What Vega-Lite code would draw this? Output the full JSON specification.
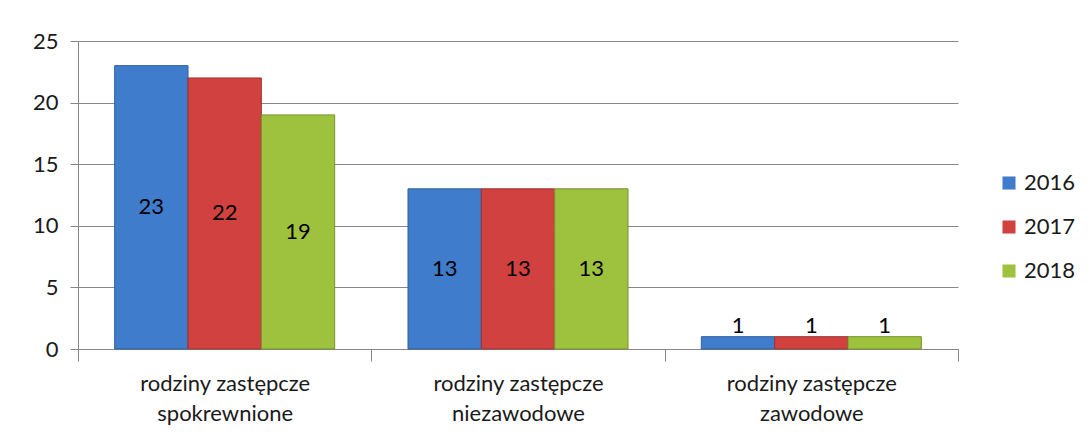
{
  "$schema": "https://vega.github.io/schema/vega-lite/v6.json",
  "width": 880,
  "height": 308,
  "autosize": {"type": "none"},
  "padding": {"left": 78, "top": 41, "right": 133, "bottom": 92},
  "background": "white",
  "config": {
    "view": {"stroke": null},
    "font": "Lato",
    "axis": {"labelFont": "Lato", "labelColor": "#1a1a1a", "labelFontSize": 22, "domainColor": "#868686", "tickColor": "#868686", "gridColor": "#868686"}
  },
  "data": {
    "values": [
      {"category": "rodziny zastępcze spokrewnione", "year": "2016", "value": 23},
      {"category": "rodziny zastępcze spokrewnione", "year": "2017", "value": 22},
      {"category": "rodziny zastępcze spokrewnione", "year": "2018", "value": 19},
      {"category": "rodziny zastępcze niezawodowe", "year": "2016", "value": 13},
      {"category": "rodziny zastępcze niezawodowe", "year": "2017", "value": 13},
      {"category": "rodziny zastępcze niezawodowe", "year": "2018", "value": 13},
      {"category": "rodziny zastępcze zawodowe", "year": "2016", "value": 1},
      {"category": "rodziny zastępcze zawodowe", "year": "2017", "value": 1},
      {"category": "rodziny zastępcze zawodowe", "year": "2018", "value": 1}
    ]
  },
  "encoding": {
    "x": {
      "field": "category", "type": "nominal", "sort": null,
      "scale": {"paddingInner": 0, "paddingOuter": 0},
      "axis": {"title": null, "labelAngle": 0, "tickBand": "extent", "tickSize": 12, "labelPadding": 12, "labelLineHeight": 30,
        "labelExpr": "isString(datum.label) && length(datum.label) > 18 ? ['rodziny zastępcze', substring(datum.label, 18)] : ''", "domainColor": "#868686"}
    },
    "xOffset": {"field": "year", "type": "nominal", "scale": {"paddingInner": 0, "paddingOuter": 0.5}}
  },
  "layer": [
    {
      "mark": {"type": "bar", "strokeWidth": 1},
      "encoding": {
        "y": {"field": "value", "type": "quantitative", "scale": {"domain": [0, 25], "nice": false},
          "axis": {"title": null, "values": [0, 5, 10, 15, 20, 25], "tickSize": 8, "labelPadding": 12, "grid": true, "domain": true}},
        "color": {"field": "year", "type": "nominal",
          "scale": {"domain": ["2016", "2017", "2018"], "range": ["#3f7dcc", "#d0413f", "#9fc23e"]},
          "legend": {"title": null, "orient": "none", "legendX": 920, "legendY": 131, "symbolType": "square", "symbolSize": 170,
            "labelFontSize": 22, "labelFont": "Lato", "labelColor": "#1a1a1a", "rowPadding": 22, "symbolStrokeWidth": 0, "labelOffset": 4}},
        "stroke": {"field": "year", "type": "nominal",
          "scale": {"domain": ["2016", "2017", "2018"], "range": ["#2f5f9e", "#9e3230", "#76912c"]}, "legend": null}
      }
    },
    {
      "transform": [{"calculate": "max(datum.value / 2, 1.85)", "as": "labelPos"}],
      "mark": {"type": "text", "fontSize": 22, "color": "#000000", "font": "Lato"},
      "encoding": {
        "y": {"field": "labelPos", "type": "quantitative", "scale": {"domain": [0, 25], "nice": false}},
        "text": {"field": "value", "type": "quantitative"}
      }
    }
  ]
}
